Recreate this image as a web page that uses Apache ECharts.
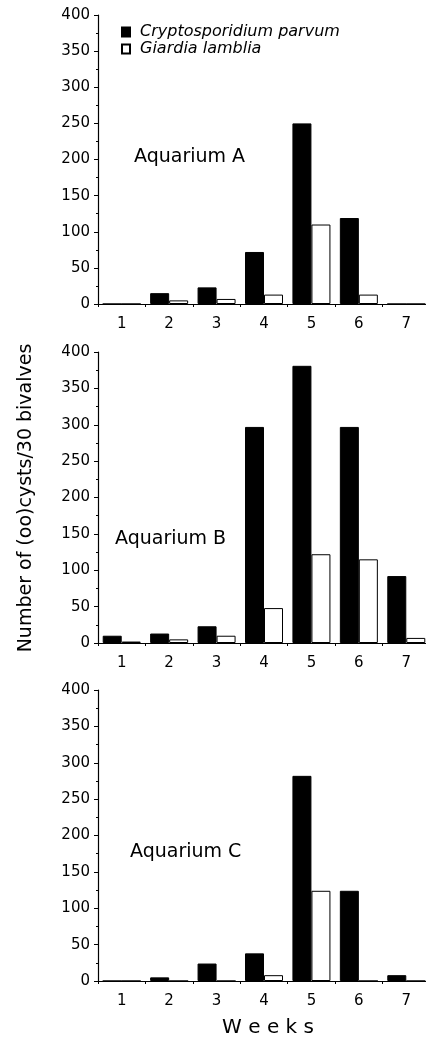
<!DOCTYPE html>
<html>
<head>
<meta charset="utf-8">
<title>Aquarium bivalves</title>
<script src="https://cdn.jsdelivr.net/npm/echarts@6/dist/echarts.min.js"></script>
<style>
html, body { margin: 0; padding: 0; background: #ffffff; }
#chart { width: 426px; height: 1037px; }
</style>
</head>
<body>
<div id="chart"></div>
<script>
var weeks = ['1', '2', '3', '4', '5', '6', '7']
var seriesNames = ['Cryptosporidium parvum', 'Giardia lamblia']
var panelLabels = ['Aquarium A', 'Aquarium B', 'Aquarium C']

// (oo)cysts per 30 bivalves
var cryptoA = [0, 15, 23, 72, 250, 119, 0]
var giardiaA = [0, 5, 7, 13, 110, 13, 0]
var cryptoB = [10, 13, 23, 297, 381, 297, 92]
var giardiaB = [2, 5, 10, 48, 122, 115, 7]
var cryptoC = [0, 5, 24, 38, 282, 124, 8]
var giardiaC = [0, 0, 0, 8, 124, 0, 0]

var yTicks = { min: 0, max: 400, interval: 50 }

var font = 'DejaVu Sans'
var grids = [
  { left: 98, top: 15, width: 332, height: 289 },
  { left: 98, top: 352, width: 332, height: 291 },
  { left: 98, top: 690, width: 332, height: 291 }
]
var labelPos = [
  { left: 134, top: 148 },
  { left: 115, top: 530 },
  { left: 130, top: 843 }
]
var cryptoData = [cryptoA, cryptoB, cryptoC]
var giardiaData = [giardiaA, giardiaB, giardiaC]

var xAxes = []
var yAxes = []
var series = []
var titles = []

for (var i = 0; i < 3; i++) {
  grids[i].outerBoundsMode = 'none'
  xAxes.push({
    type: 'category',
    gridIndex: i,
    data: weeks,
    boundaryGap: true,
    axisLine: { lineStyle: { color: '#000', width: 1.2 } },
    axisTick: { show: true, length: 3, inside: false, lineStyle: { color: '#000' } },
    axisLabel: { color: '#000', fontFamily: font, fontSize: 15, margin: 13 },
    splitLine: { show: false }
  })
  yAxes.push({
    type: 'value',
    gridIndex: i,
    min: yTicks.min,
    max: yTicks.max,
    interval: yTicks.interval,
    axisLine: { show: true, lineStyle: { color: '#000', width: 1.2 } },
    axisTick: { show: true, length: 4, lineStyle: { color: '#000' } },
    minorTick: { show: true, splitNumber: 2, length: 2, lineStyle: { color: '#000' } },
    axisLabel: { color: '#000', fontFamily: font, fontSize: 15, margin: 8 },
    splitLine: { show: false }
  })
  series.push({
    name: seriesNames[0],
    type: 'bar',
    xAxisIndex: i,
    yAxisIndex: i,
    data: cryptoData[i],
    barWidth: 19,
    barGap: '0%',
    itemStyle: { color: '#000', borderColor: '#000', borderWidth: 1 }
  })
  series.push({
    name: seriesNames[1],
    type: 'bar',
    xAxisIndex: i,
    yAxisIndex: i,
    data: giardiaData[i],
    barWidth: 19,
    barGap: '0%',
    itemStyle: { color: '#fff', borderColor: '#000', borderWidth: 1 }
  })
  titles.push({
    text: panelLabels[i],
    left: labelPos[i].left,
    top: labelPos[i].top,
    padding: 0,
    textStyle: { color: '#000', fontFamily: font, fontSize: 19, fontWeight: 'normal' }
  })
}

var chart = echarts.init(document.getElementById('chart'), null, { renderer: 'canvas' })
chart.setOption({
  animation: false,
  backgroundColor: '#fff',
  title: titles,
  legend: {
    data: seriesNames,
    orient: 'vertical',
    left: 121,
    top: 24,
    padding: 0,
    itemWidth: 8,
    itemHeight: 9,
    itemGap: 1,
    icon: 'rect',
    textStyle: { color: '#000', fontFamily: font, fontStyle: 'italic', fontSize: 16, padding: [0, 0, 0, 5] }
  },
  grid: grids,
  xAxis: xAxes,
  yAxis: yAxes,
  series: series,
  graphic: [
    {
      type: 'text',
      x: 26,
      y: 498,
      rotation: Math.PI / 2,
      style: {
        text: 'Number of (oo)cysts/30 bivalves',
        fill: '#000',
        font: '19px "DejaVu Sans"',
        textAlign: 'center',
        textVerticalAlign: 'middle'
      }
    },
    {
      type: 'text',
      x: 268,
      y: 1028,
      style: {
        text: 'W e e k s',
        fill: '#000',
        font: '20px "DejaVu Sans"',
        textAlign: 'center',
        textVerticalAlign: 'middle'
      }
    }
  ]
})
</script>
</body>
</html>
